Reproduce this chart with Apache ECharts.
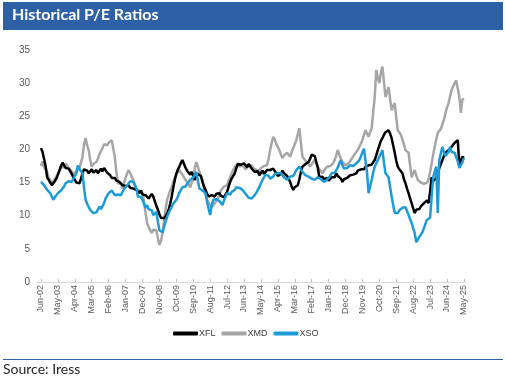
<!DOCTYPE html>
<html>
<head>
<meta charset="utf-8">
<script src="https://cdn.jsdelivr.net/npm/echarts@6/dist/echarts.min.js"></script>
<style>
html,body{margin:0;padding:0;background:#fff;}
#chart{width:505px;height:378px;}
</style>
</head>
<body>
<div id="chart"></div>
<script>
// Tick labels (every 11 months, Jun-02 .. May-25)
const tickLabels = ['Jun-02','May-03','Apr-04','Mar-05','Feb-06','Jan-07','Dec-07','Nov-08','Oct-09','Sep-10','Aug-11','Jul-12','Jun-13','May-14','Apr-15','Mar-16','Feb-17','Jan-18','Dec-18','Nov-19','Oct-20','Sep-21','Aug-22','Jul-23','Jun-24','May-25'];
const seriesNames = ['XFL','XMD','XSO'];

// Monthly P/E values, Jun-02 .. May-25 (276 months)
const xfl = [
20.2,19.6,19.3,17.5,15.8,15.4,15.0,14.6,14.9,15.2,15.6,15.8,
16.8,17.5,18.0,17.6,17.2,16.9,17.1,16.9,16.3,15.8,15.4,15.0,
14.9,14.9,15.6,16.4,17.0,17.2,16.8,16.4,16.6,17.0,16.5,16.6,
16.9,16.4,16.6,17.1,16.7,17.2,16.9,16.5,16.3,16.1,15.7,15.9,
15.7,15.3,15.5,15.1,14.8,14.6,14.9,14.5,14.3,14.6,14.2,14.0,
14.1,14.3,13.9,13.6,13.4,13.8,13.2,12.9,13.1,12.9,12.6,12.8,
13.3,12.9,12.2,11.5,10.9,10.2,9.7,9.4,9.6,9.8,10.3,10.9,
11.8,12.9,14.2,15.4,16.3,17.0,17.4,18.0,18.4,17.8,17.2,16.8,
16.6,16.2,16.6,16.4,15.4,15.9,16.3,16.6,16.0,15.1,14.4,13.9,
13.3,12.9,12.7,13.1,12.8,12.9,13.3,13.6,13.4,13.0,13.2,12.8,
12.9,13.6,14.4,15.1,15.6,16.0,16.4,17.2,17.8,18.1,17.7,17.4,
17.9,17.6,17.3,17.8,17.6,17.1,16.8,16.6,16.4,16.7,16.1,16.4,
16.8,16.3,16.6,16.9,17.2,16.9,16.6,17.1,16.9,16.4,16.0,15.8,
16.3,16.8,16.4,16.6,16.0,15.6,15.1,14.4,13.9,14.3,14.6,14.6,
15.5,16.6,17.4,17.2,17.8,17.6,18.1,18.6,19.2,19.5,19.0,18.7,
17.2,15.8,15.6,15.9,15.5,15.4,15.7,15.3,15.4,15.8,15.5,15.8,
16.4,16.0,16.1,15.6,15.1,15.5,15.4,15.7,16.0,16.1,15.8,16.2,
16.5,16.4,16.8,16.6,17.0,17.2,17.0,17.4,17.2,17.6,17.3,17.7,
17.9,18.4,19.1,19.9,20.6,21.3,21.7,22.2,22.6,22.3,22.9,22.4,
21.7,20.6,19.5,18.3,17.4,17.0,16.7,16.4,15.5,14.9,14.1,13.4,
12.6,11.9,11.1,10.4,10.9,11.2,11.0,11.4,11.6,11.9,12.1,12.3,
11.9,13.6,15.8,15.2,14.9,15.7,16.4,17.2,17.8,18.4,19.0,19.5,
19.8,19.9,20.1,20.4,20.7,21.0,20.8,21.4,17.6,18.3,18.9,18.7
];
const xmd = [
17.5,18.2,17.3,17.6,16.6,15.7,15.4,15.0,15.1,15.5,15.9,16.4,
16.9,17.3,17.6,17.3,17.9,17.6,17.2,17.4,16.7,16.1,16.4,16.8,
16.6,17.2,18.0,18.9,20.8,21.7,20.6,19.9,18.4,17.4,17.8,17.5,
18.1,18.6,19.3,19.6,20.2,20.8,21.1,20.6,21.0,20.7,21.4,20.1,
18.9,16.6,14.9,14.6,14.8,14.1,14.9,15.7,16.4,16.9,16.4,16.6,
15.4,14.6,13.9,14.2,13.8,13.6,13.4,12.1,10.4,8.9,8.3,7.8,
7.4,7.9,8.1,7.8,6.6,5.6,6.2,7.4,9.2,11.0,12.4,13.1,
13.8,14.3,15.1,15.8,16.3,16.6,16.9,16.5,16.2,15.8,15.4,15.1,
14.7,14.3,14.1,15.6,17.2,18.1,17.4,16.6,15.9,15.4,14.1,13.2,
12.4,11.9,11.6,11.3,11.5,11.9,12.1,12.6,13.2,13.8,14.1,14.4,
14.3,14.6,15.3,15.8,16.4,16.9,17.3,17.6,17.9,17.4,17.7,17.6,
17.3,17.0,17.2,17.5,17.8,17.6,17.2,17.0,16.9,17.1,16.8,17.2,
17.2,17.5,17.3,17.6,18.6,19.9,21.0,21.9,21.5,20.8,21.0,19.9,
19.2,18.7,19.1,19.3,19.5,19.2,18.9,19.6,20.2,20.8,21.4,22.3,
23.2,21.0,18.9,18.6,18.3,18.1,17.8,17.4,17.8,18.1,18.4,17.9,
17.4,17.0,16.7,16.4,16.8,17.1,17.4,17.2,17.5,17.6,17.9,18.4,
19.1,19.9,19.2,18.6,18.1,18.0,17.6,17.8,17.9,18.2,18.6,18.9,
19.3,19.6,19.9,20.4,20.9,21.4,22.2,22.9,22.4,21.9,22.6,23.2,
25.6,27.9,32.0,30.8,30.0,31.6,32.5,30.2,27.9,28.7,29.4,27.6,
25.9,26.5,27.0,24.8,22.9,22.6,22.2,21.9,20.8,19.9,19.7,19.5,
17.6,15.8,16.4,16.9,16.1,15.4,15.2,15.0,14.9,14.8,14.6,15.0,
15.4,16.6,17.9,19.2,20.4,21.5,22.5,22.8,23.1,23.4,24.5,25.5,
26.3,27.0,28.0,29.0,29.5,30.0,30.4,30.5,28.0,25.5,27.5,27.7
];
const xso = [
15.1,14.8,14.6,14.3,13.9,13.6,13.4,12.9,12.4,12.8,13.1,13.4,
13.2,13.8,14.1,14.4,14.9,14.6,15.2,15.4,15.1,15.6,15.8,16.4,
17.6,17.0,16.8,16.4,14.2,12.4,11.8,11.3,10.9,10.6,10.4,10.7,
10.5,10.9,11.4,11.0,11.3,11.9,12.6,12.9,13.4,13.2,13.8,13.6,
13.1,12.9,13.2,13.4,13.1,13.6,14.0,14.3,14.6,14.9,15.2,15.4,
15.1,15.4,14.2,12.9,12.6,12.8,12.4,11.8,11.2,11.6,11.0,11.3,
10.8,10.1,10.4,10.6,9.1,7.8,7.6,7.5,8.3,9.1,9.8,10.4,
10.9,11.3,11.8,12.1,12.4,12.9,13.5,13.9,14.3,14.6,14.4,14.8,
15.1,15.4,15.2,15.8,16.1,16.6,15.3,14.1,14.4,13.8,13.6,13.4,
12.1,11.0,10.1,11.6,12.4,12.1,12.5,12.7,12.2,11.9,11.6,12.3,
12.9,13.4,13.6,13.2,13.6,13.4,13.9,14.3,14.6,14.2,14.4,13.9,
13.6,13.3,13.0,12.7,12.9,12.6,12.7,13.1,13.5,13.9,14.3,14.9,
15.4,15.8,16.2,16.4,16.0,15.6,15.4,15.9,16.3,16.6,16.4,16.2,
16.4,16.1,15.8,15.6,15.4,15.6,15.9,15.8,16.0,16.4,16.9,17.1,
17.4,17.0,16.6,16.3,16.1,16.0,15.9,15.8,15.6,15.5,15.4,15.6,
15.8,15.7,15.5,15.3,15.1,15.1,15.4,15.7,16.0,16.4,16.6,16.5,
16.8,17.3,17.9,18.4,17.6,17.1,16.9,17.2,17.4,17.6,17.3,17.5,
17.6,17.9,18.1,18.4,18.9,19.6,20.1,20.4,16.5,13.4,14.4,15.4,
16.5,17.4,17.9,18.4,18.9,19.4,19.9,18.0,16.4,16.1,15.8,14.3,
12.9,11.6,10.4,10.5,10.4,10.8,11.0,11.2,11.3,11.3,10.7,10.1,
9.5,8.9,8.1,7.4,6.0,6.4,6.8,7.1,7.5,8.1,8.8,9.4,
9.6,9.7,12.8,15.8,16.6,17.4,10.4,18.4,19.4,20.4,19.6,19.0,
18.9,19.6,20.4,19.6,19.5,19.5,18.8,18.2,17.2,17.6,18.1,18.7
];

const colors = {XFL:'#000000', XMD:'#a6a6a6', XSO:'#1d9bd7'};
const tickStep = 11;
const tickPositions = tickLabels.map((_, k) => k * tickStep);
const axisFont = "'Liberation Sans',Arial,sans-serif";
const toPairs = arr => arr.map((v, i) => [i, v]);

const chart = echarts.init(document.getElementById('chart'), null, {renderer:'canvas'});
chart.setOption({
  animation: false,
  backgroundColor: '#ffffff',
  graphic: [
    {type:'rect', left:3, top:2, shape:{width:500, height:28}, style:{fill:'#2e60a6'}},
    {type:'text', left:12, top:7, style:{text:'Historical P/E Ratios', fill:'#ffffff', font:"bold 16px Lato, 'Open Sans', sans-serif"}},
    {type:'line', shape:{x1:3, y1:359.5, x2:503, y2:359.5}, style:{stroke:'#2e60a6', lineWidth:1}},
    {type:'text', left:3, top:362, style:{text:'Source: Iress', fill:'#262626', font:"14px Lato, 'Open Sans', sans-serif"}}
  ],
  grid: {left:37, right:40, top:50, bottom:96, containLabel:false},
  legend: {
    data: seriesNames,
    left: 168, top: 324,
    itemWidth: 25, itemHeight: 4, itemGap: 6,
    icon: 'roundRect',
    textStyle: {fontSize:9, color:'#404040', fontFamily:axisFont, padding:[0,0,0,-4]}
  },
  xAxis: {
    type: 'value',
    min: -2.6, max: 275.7,
    axisLine: {show:true, lineStyle:{color:'#d9d9d9', width:1}},
    axisTick: {show:true, inside:true, length:3, customValues: tickPositions, lineStyle:{color:'#bfbfbf'}},
    splitLine: {show:false},
    axisLabel: {
      customValues: tickPositions,
      rotate: 90, margin: 3,
      fontSize: 9, color:'#595959', fontFamily: axisFont,
      formatter: v => tickLabels[Math.round(v / tickStep)]
    }
  },
  yAxis: {
    type: 'value', min:0, max:35, interval:5,
    axisLine: {show:false}, axisTick: {show:false}, splitLine: {show:false},
    axisLabel: {fontSize:10, color:'#595959', fontFamily: axisFont, margin:7}
  },
  series: [
    {name:'XFL', type:'line', data:toPairs(xfl), showSymbol:false, z:3, lineStyle:{width:2.5, color:colors.XFL}, itemStyle:{color:colors.XFL}},
    {name:'XMD', type:'line', data:toPairs(xmd), showSymbol:false, z:2, lineStyle:{width:2.5, color:colors.XMD}, itemStyle:{color:colors.XMD}},
    {name:'XSO', type:'line', data:toPairs(xso), showSymbol:false, z:4, lineStyle:{width:2.5, color:colors.XSO}, itemStyle:{color:colors.XSO}}
  ]
});
</script>
</body>
</html>
